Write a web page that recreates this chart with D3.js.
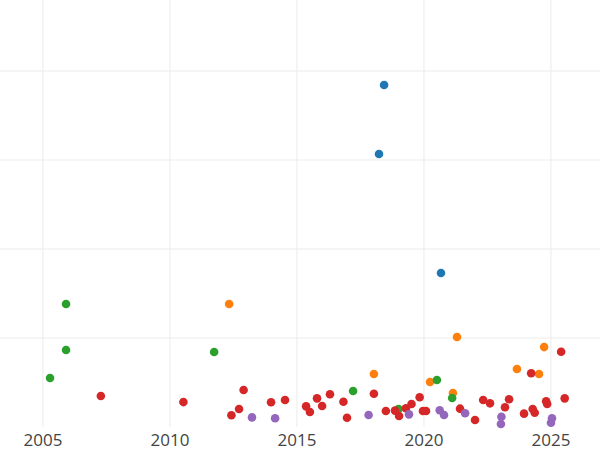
<!DOCTYPE html><html><head><meta charset="utf-8"><script src="https://cdn.jsdelivr.net/npm/d3@7"></script>
<style>body{margin:0;background:#fff}</style></head><body><svg id="c" width="600" height="450"></svg>
<script>
const categories=["blue","orange","green","red","purple"];
const colors=["#1f77b4","#ff7f0e","#2ca02c","#d62728","#9467bd"];
const blueYears=[2018.43,2018.23,2020.67];
const blueVals=[192.1,153.4,86.5];
const orangeYears=[2012.33,2018.03,2021.30,2020.24,2021.14,2023.66,2024.73,2024.53];
const orangeVals=[69.1,29.8,50.6,25.3,19.1,32.6,44.9,29.8];
const greenYears=[2005.91,2005.91,2005.28,2011.74,2017.21,2020.51,2021.11,2019.0];
const greenVals=[69.1,43.3,27.5,42.1,20.2,26.4,16.3,10.1];
const redYears=[2007.28,2010.53,2012.42,2012.72,2012.90,2013.98,2014.53,2015.36,2015.51,2015.79,2015.99,2016.30,2016.83,2016.97,2018.03,2018.50,2018.86,2019.02,2019.29,2019.51,2019.83,2019.96,2020.08,2021.42,2022.01,2022.33,2022.60,2023.19,2023.35,2023.94,2024.22,2024.28,2024.36,2024.81,2024.85,2025.40,2025.54];
const redVals=[17.4,14.0,6.6,10.1,20.8,13.9,15.2,11.6,8.4,16.1,11.8,18.4,14.2,5.2,18.7,9.0,9.2,6.2,10.5,12.9,16.7,9.0,9.0,10.3,3.9,15.2,13.3,11.1,15.6,7.5,30.2,10.1,8.0,14.4,12.9,42.3,16.1];
const purpleYears=[2013.23,2014.14,2017.82,2019.41,2020.62,2020.79,2021.62,2023.05,2023.03,2025.04,2025.0];
const purpleVals=[5.4,4.9,6.7,7.1,9.4,6.7,7.7,5.8,1.7,4.9,2.4];
const xTicks=[2005,2010,2015,2020,2025];
const yTicks=[50,100,150,200];
const series=[[blueYears,blueVals],[orangeYears,orangeVals],[greenYears,greenVals],[redYears,redVals],[purpleYears,purpleVals]];
const svg=d3.select("#c");
const x=d3.scaleLinear().domain([2003.31,2026.93]).range([0,600]);
const y=d3.scaleLinear().domain([0,50]).range([427,338]);
svg.selectAll(".vg").data(xTicks).join("line").attr("x1",d=>x(d)).attr("x2",d=>x(d)).attr("y1",0).attr("y2",427).attr("stroke","#ebebeb");
svg.selectAll(".hg").data(yTicks).join("line").attr("x1",0).attr("x2",600).attr("y1",d=>y(d)).attr("y2",d=>y(d)).attr("stroke","#ebebeb");
svg.selectAll(".xt").data(xTicks).join("text").attr("x",d=>x(d)).attr("y",446).attr("text-anchor","middle").attr("font-family","Open Sans, sans-serif").attr("font-size",17).attr("fill","#444").text(d=>d);
series.forEach(([ys,vs],i)=>{
  svg.append("g").selectAll("circle").data(ys.map((yr,j)=>[yr,vs[j]])).join("circle")
   .attr("cx",d=>x(d[0])).attr("cy",d=>y(d[1])).attr("r",4.3).attr("fill",colors[i]);
});
</script></body></html>
